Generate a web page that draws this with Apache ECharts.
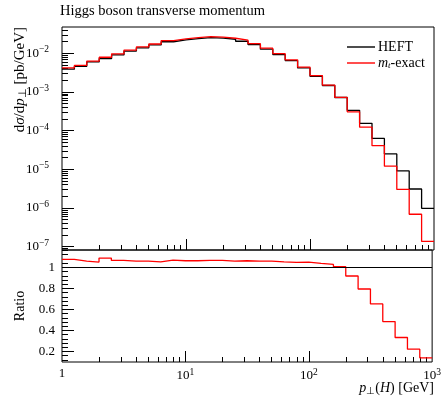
<!DOCTYPE html>
<html><head><meta charset="utf-8">
<script src="https://cdn.jsdelivr.net/npm/echarts@6/dist/echarts.min.js"></script>
<style>html,body{margin:0;padding:0;background:#fff}#c{width:444px;height:396px}</style>
</head><body><div id="c"></div>
<script>
// ---- data ----
const binEdges = [1, 1.2589, 1.5849, 1.9953, 2.5119, 3.1623, 3.9811, 5.0119, 6.3096, 7.9433,
  10, 12.589, 15.849, 19.953, 25.119, 31.623, 39.811, 50.119, 63.096, 79.433,
  100, 125.89, 158.49, 199.53, 251.19, 316.23, 398.11, 501.19, 630.96, 794.33, 1000];
const heft = [0.0039, 0.0046, 0.0060, 0.0073, 0.0091, 0.0114, 0.0138, 0.0165, 0.0199, 0.0222,
  0.0240, 0.0254, 0.0246, 0.0231, 0.0205, 0.0168, 0.0128, 0.0093, 0.0065, 0.0042,
  0.00255, 0.00147, 7.2e-4, 3.36e-4, 1.55e-4, 6.3e-5, 2.5e-5, 9.1e-6, 3.1e-6, 9.8e-7];
const mtExact = [0.0042, 0.0049, 0.0063, 0.0079, 0.0097, 0.0121, 0.0146, 0.0174, 0.0213, 0.0236,
  0.0255, 0.0271, 0.0262, 0.0245, 0.0218, 0.0178, 0.0136, 0.0098, 0.0068, 0.0044,
  0.00265, 0.00151, 7.24e-4, 3.08e-4, 1.23e-4, 4.1e-5, 1.21e-5, 3.03e-6, 6.9e-7, 1.37e-7];
const ratioMt = [1.076, 1.06, 1.05, 1.088, 1.066, 1.06, 1.06, 1.053, 1.069, 1.063,
  1.063, 1.066, 1.066, 1.06, 1.063, 1.06, 1.06, 1.053, 1.047, 1.05,
  1.038, 1.028, 1.006, 0.918, 0.794, 0.652, 0.484, 0.333, 0.222, 0.14];
const ratioReference = 1;
const seriesNames = ['HEFT', 'mt-exact'];
const titleText = 'Higgs boson transverse momentum';
const xMajorTicks = [1, 10, 100, 1000];
const xTickExps = ['', '1', '2', '3'];
const yTopMajor = [1e-7, 1e-6, 1e-5, 1e-4, 1e-3, 1e-2];
const yTopExps = ['−7', '−6', '−5', '−4', '−3', '−2'];
const yRatioMajor = [0.2, 0.4, 0.6, 0.8, 1];
const yRatioLabels = ['0.2', '0.4', '0.6', '0.8', '1'];

// ---- helpers ----
const FONT = 'Liberation Serif';
function steps(vals) {
  const pts = vals.map((v, i) => [binEdges[i], v]);
  pts.push([binEdges[vals.length], vals[vals.length - 1]]);
  return pts;
}
function minorLog(decades) {
  const out = [];
  decades.forEach(d => { for (let m = 2; m <= 9; m++) out.push(+(d * m).toPrecision(3)); });
  return out;
}
const xMinor = minorLog([1, 10, 100]);
const yTopMinor = minorLog([1e-8, 1e-7, 1e-6, 1e-5, 1e-4, 1e-3, 1e-2]);
const yRatioMinor = [];
for (let k = 3; k <= 29; k++) { if (k % 5 !== 0) yRatioMinor.push(+(k * 0.04).toFixed(2)); }

function idxOf(arr, v) {
  let best = 0, bd = Infinity;
  arr.forEach((a, i) => { const d = Math.abs(Math.log(a) - Math.log(v)); if (d < bd) { bd = d; best = i; } });
  return best;
}
const supRich = {
  b: { fontFamily: FONT, fontSize: 13, color: '#000' },
  s: { fontFamily: FONT, fontSize: 9.5, color: '#000', padding: [0, 0, 7, 0] }
};
const tickStyle = { color: '#000', width: 1 };
function majorAxis(base, ticks, len, label) {
  return Object.assign({
    axisLine: { show: false },
    splitLine: { show: false },
    axisTick: { show: true, inside: true, length: len, customValues: ticks, lineStyle: tickStyle },
    axisLabel: label || { show: false }
  }, base);
}

const chart = echarts.init(document.getElementById('c'), null, { renderer: 'canvas' });
chart.setOption({
  animation: false,
  backgroundColor: '#fff',
  title: {
    text: titleText, left: 60, top: 4, padding: 0,
    textStyle: { fontFamily: FONT, fontSize: 14.5, fontWeight: 'normal', color: '#000' }
  },
  legend: {
    orient: 'vertical', left: 342, top: 35, itemGap: 2, itemWidth: 28, itemHeight: 1.4,
    icon: 'rect', data: seriesNames, selectedMode: false,
    textStyle: {
      fontFamily: FONT, fontSize: 14, color: '#000', padding: [0, 0, 0, -2], lineHeight: 14,
      rich: {
        n: { fontFamily: FONT, fontSize: 14, color: '#000' },
        i: { fontFamily: FONT, fontSize: 14, fontStyle: 'italic', color: '#000' },
        sub: { fontFamily: FONT, fontSize: 9, fontStyle: 'italic', color: '#000', padding: [6, 0, 0, 0] }
      }
    },
    formatter: name => name === 'mt-exact' ? '{i|m}{sub|t}{n|-exact}' : '{n|' + name + '}'
  },
  grid: [
    { left: 62, top: 27, width: 372, height: 223, show: true, borderColor: '#000', borderWidth: 1, backgroundColor: 'transparent' },
    { left: 62, top: 250, width: 372, height: 112, show: true, borderColor: '#000', borderWidth: 1, backgroundColor: 'transparent' }
  ],
  xAxis: [
    majorAxis({ gridIndex: 0, type: 'log', logBase: 10, min: 1, max: 1000, position: 'bottom' }, [10, 100], 11),
    majorAxis({ gridIndex: 0, type: 'log', logBase: 10, min: 1, max: 1000, position: 'bottom' }, xMinor, 5),
    majorAxis({ gridIndex: 1, type: 'log', logBase: 10, min: 1, max: 1000, position: 'bottom' }, [10, 100], 11, {
      show: true, customValues: xMajorTicks, margin: 5, rich: supRich,
      formatter: v => { const e = xTickExps[idxOf(xMajorTicks, v)]; return e === '' ? '{b|1}' : '{b|10}{s|' + e + '}'; }
    }),
    majorAxis({ gridIndex: 1, type: 'log', logBase: 10, min: 1, max: 1000, position: 'bottom' }, xMinor, 5)
  ],
  yAxis: [
    majorAxis({ gridIndex: 0, type: 'log', logBase: 10, min: 8.22e-8, max: 0.0479, position: 'left' }, yTopMajor, 12, {
      show: true, customValues: yTopMajor, margin: 13, rich: supRich,
      formatter: v => '{b|10}{s|' + yTopExps[idxOf(yTopMajor, v)] + '}'
    }),
    majorAxis({ gridIndex: 0, type: 'log', logBase: 10, min: 8.22e-8, max: 0.0479, position: 'left' }, yTopMinor, 6),
    majorAxis({ gridIndex: 1, type: 'value', min: 0.1, max: 1.165, position: 'left' }, yRatioMajor, 12, {
      show: true, customValues: yRatioMajor, margin: 7,
      fontFamily: FONT, fontSize: 13, color: '#000',
      formatter: v => yRatioLabels[yRatioMajor.findIndex(t => Math.abs(t - v) < 1e-6)]
    }),
    majorAxis({ gridIndex: 1, type: 'value', min: 0.1, max: 1.165, position: 'left' }, yRatioMinor, 6)
  ],
  series: [
    { type: 'line', name: 'HEFT', xAxisIndex: 0, yAxisIndex: 0, data: steps(heft), step: 'end',
      symbol: 'none', lineStyle: { color: '#000', width: 1.3 }, itemStyle: { color: '#000' }, z: 3 },
    { type: 'line', name: 'mt-exact', xAxisIndex: 0, yAxisIndex: 0, data: steps(mtExact), step: 'end',
      symbol: 'none', lineStyle: { color: '#ff0000', width: 1.3 }, itemStyle: { color: '#ff0000' }, z: 4 },
    { type: 'line', name: 'ratio', xAxisIndex: 2, yAxisIndex: 2, data: steps(ratioMt), step: 'end',
      symbol: 'none', lineStyle: { color: '#ff0000', width: 1.3 }, z: 4,
      markLine: { silent: true, symbol: 'none', label: { show: false },
        lineStyle: { color: '#000', width: 1, type: 'solid' }, data: [{ yAxis: ratioReference }] } }
  ],
  graphic: [
    { type: 'text', x: 20, y: 27, rotation: Math.PI / 2,
      style: { text: '{n|d}{g|σ}{n|/d}{i|p}{sub|⊥}{n| [pb/GeV]}', textAlign: 'right', textVerticalAlign: 'middle',
        rich: {
          n: { fontFamily: FONT, fontSize: 15, fill: '#000' },
          g: { fontFamily: FONT, fontSize: 15, fontStyle: 'italic', fill: '#000' },
          i: { fontFamily: FONT, fontSize: 15, fontStyle: 'italic', fill: '#000' },
          sub: { fontFamily: FONT, fontSize: 10.5, fill: '#000', padding: [6, 0, 0, 0] }
        } } },
    { type: 'text', x: 20, y: 306, rotation: Math.PI / 2,
      style: { text: 'Ratio', textAlign: 'center', textVerticalAlign: 'middle', font: '14px "Liberation Serif"', fill: '#000' } },
    { type: 'text', x: 434, y: 388,
      style: { text: '{i|p}{sub|⊥}{n|(}{i|H}{n|) [GeV]}', textAlign: 'right', textVerticalAlign: 'middle',
        rich: {
          n: { fontFamily: FONT, fontSize: 14, fill: '#000' },
          i: { fontFamily: FONT, fontSize: 14, fontStyle: 'italic', fill: '#000' },
          sub: { fontFamily: FONT, fontSize: 10, fill: '#000', padding: [6, 0, 0, 0] }
        } } }
  ]
});
</script>
</body></html>
